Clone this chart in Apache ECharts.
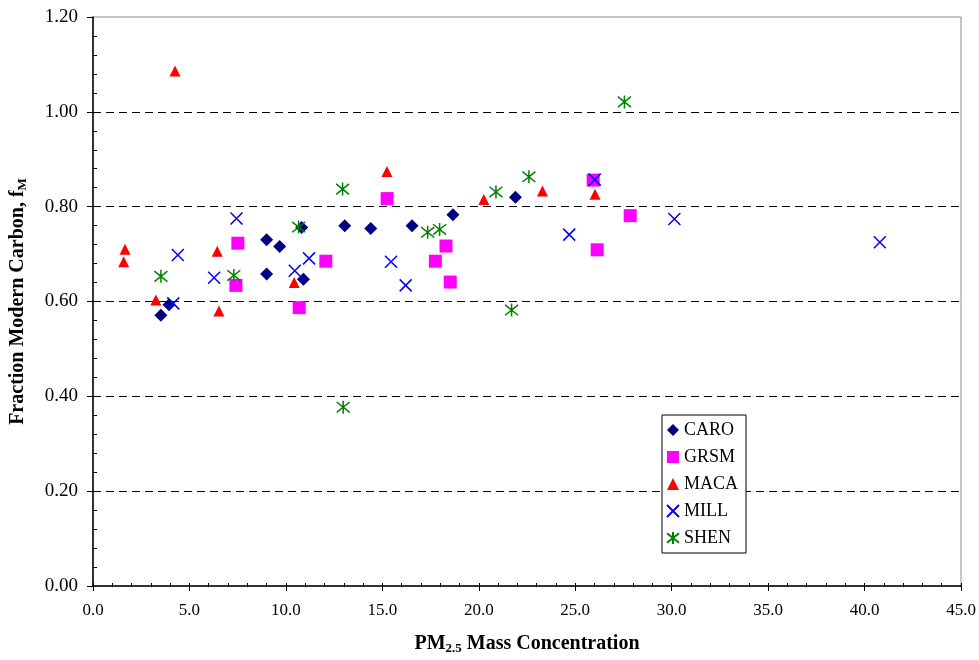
<!DOCTYPE html>
<html>
<head>
<meta charset="utf-8">
<title>Fraction Modern Carbon vs PM2.5</title>
<script src="https://cdn.jsdelivr.net/npm/echarts@6/dist/echarts.min.js"></script>
<style>
  html, body { margin: 0; padding: 0; background: #fff; }
  #chart { width: 979px; height: 660px; }
</style>
</head>
<body>
<div id="chart"></div>
<script>
// Axis ranges / ticks
const xTicks = [0, 5, 10, 15, 20, 25, 30, 35, 40, 45];
const yTicks = [0, 0.2, 0.4, 0.6, 0.8, 1.0, 1.2];

// Site data: [PM2.5 mass, fraction modern]
const caro = [
  [3.52, 0.571], [3.94, 0.593], [9.0, 0.730], [9.68, 0.716], [9.0, 0.658],
  [10.82, 0.756], [10.91, 0.647], [13.05, 0.760], [14.4, 0.754],
  [16.54, 0.760], [18.66, 0.783], [21.9, 0.820]
];
const grsm = [
  [7.51, 0.723], [7.41, 0.634], [10.69, 0.587], [12.07, 0.685], [15.25, 0.817],
  [17.75, 0.685], [18.3, 0.717], [18.52, 0.641], [25.93, 0.856],
  [26.14, 0.709], [27.85, 0.781]
];
const maca = [
  [1.59, 0.684], [1.66, 0.710], [3.26, 0.603], [4.25, 1.086], [6.44, 0.706],
  [6.53, 0.580], [10.43, 0.640], [15.24, 0.874], [20.26, 0.815],
  [23.3, 0.833], [26.03, 0.826]
];
const mill = [
  [4.16, 0.596], [4.40, 0.698], [6.28, 0.650], [7.44, 0.775], [10.46, 0.665],
  [11.2, 0.691], [15.45, 0.684], [16.21, 0.634], [24.69, 0.741],
  [26.01, 0.857], [30.14, 0.774], [40.79, 0.725]
];
const shen = [
  [3.52, 0.653], [7.30, 0.655], [10.66, 0.757], [12.94, 0.837], [12.97, 0.377],
  [17.35, 0.746], [17.97, 0.752], [20.89, 0.831], [21.7, 0.582],
  [22.6, 0.863], [27.55, 1.021]
];

const serif = '"Liberation Serif", "DejaVu Serif", serif';
const crossPath = 'path://M0,0L10,10M10,0L0,10';
const starPath = 'path://M5,0L5,10M0,1L10,9M0,9L10,1';

const gridLeft = 93, gridRight = 18, gridTop = 17, gridBottom = 73;
const gridW = 979 - gridLeft - gridRight;
const gridH = 660 - gridTop - gridBottom;

const chart = echarts.init(document.getElementById('chart'), null, { renderer: 'canvas' });

function scatter(name, data, symbol, size, color, stroke) {
  return {
    name: name,
    type: 'scatter',
    data: data,
    symbol: symbol,
    symbolSize: size,
    itemStyle: stroke
      ? { color: 'rgba(0,0,0,0)', borderColor: color, borderWidth: 1.5, opacity: 1 }
      : { color: color, opacity: 1 },
    emphasis: { disabled: true },
    z: 5
  };
}

const titleRich = {
  b: { fontFamily: serif, fontSize: 20, fontWeight: 'bold', color: '#000' },
  s: { fontFamily: serif, fontSize: 13, fontWeight: 'bold', color: '#000', verticalAlign: 'bottom', padding: [9, 0, 0, 0] }
};

const option = {
  animation: false,
  backgroundColor: '#fff',
  grid: {
    left: gridLeft, right: gridRight, top: gridTop, bottom: gridBottom,
    show: true, borderColor: '#8c8c8c', borderWidth: 1, backgroundColor: '#fff'
  },
  legend: {
    orient: 'vertical',
    left: 662, top: 415,
    padding: [6, 8, 6, 4],
    itemWidth: 12, itemHeight: 12, itemGap: 9,
    backgroundColor: '#fff',
    borderColor: '#000', borderWidth: 1,
    textStyle: { fontFamily: serif, fontSize: 18, color: '#000', lineHeight: 17 },
    data: ['CARO', 'GRSM', 'MACA', 'MILL', 'SHEN']
  },
  xAxis: [
    {
      type: 'value',
      min: xTicks[0], max: xTicks[xTicks.length - 1], interval: 5,
      position: 'bottom',
      axisLine: { show: true, onZero: false, lineStyle: { color: '#000', width: 1.5 } },
      axisTick: { show: true, inside: false, length: 5, lineStyle: { color: '#000' } },
      axisLabel: {
        fontFamily: serif, fontSize: 17, color: '#000', margin: 16,
        formatter: v => v.toFixed(1)
      },
      splitLine: { show: false },
      name: '{b|PM}{s|2.5}{b| Mass Concentration}',
      nameLocation: 'middle', nameGap: 47,
      nameTextStyle: { rich: titleRich }
    },
    {
      // minor ticks pointing into the plot from the bottom edge
      type: 'value',
      min: xTicks[0], max: xTicks[xTicks.length - 1], interval: 5,
      position: 'top', offset: -gridH,
      axisLine: { show: false, onZero: false },
      axisTick: { show: true, inside: false, length: 4, lineStyle: { color: '#000' } },
      minorTick: { show: true, splitNumber: 5, length: 4, lineStyle: { color: '#000' } },
      axisLabel: { show: false },
      splitLine: { show: false }
    }
  ],
  yAxis: [
    {
      type: 'value',
      min: yTicks[0], max: yTicks[yTicks.length - 1], interval: 0.2,
      position: 'left',
      axisLine: { show: true, onZero: false, lineStyle: { color: '#000', width: 1.5 } },
      axisTick: { show: true, inside: false, length: 6, lineStyle: { color: '#000' } },
      axisLabel: {
        fontFamily: serif, fontSize: 19, color: '#000', margin: 15,
        formatter: v => v.toFixed(2)
      },
      splitLine: {
        show: true, showMinLine: false, showMaxLine: false,
        lineStyle: { color: '#000', type: [8, 5], width: 1 }
      },
      name: '{b|Fraction Modern Carbon, f}{s|M}',
      nameLocation: 'middle', nameGap: 64, nameRotate: 90,
      nameTextStyle: { rich: titleRich }
    },
    {
      // minor ticks pointing into the plot from the left edge
      type: 'value',
      min: yTicks[0], max: yTicks[yTicks.length - 1], interval: 0.2,
      position: 'right', offset: -gridW,
      axisLine: { show: false, onZero: false },
      axisTick: { show: false },
      minorTick: { show: true, splitNumber: 5, length: 4, lineStyle: { color: '#000' } },
      axisLabel: { show: false },
      splitLine: { show: false }
    }
  ],
  series: [
    scatter('CARO', caro, 'diamond', 13, '#000080', false),
    scatter('GRSM', grsm, 'rect', 13, '#ff00ff', false),
    scatter('MACA', maca, 'triangle', 11, '#ff0000', false),
    scatter('MILL', mill, crossPath, 12, '#0000ff', true),
    scatter('SHEN', shen, starPath, 13, '#008000', true)
  ]
};

chart.setOption(option);
</script>
</body>
</html>
